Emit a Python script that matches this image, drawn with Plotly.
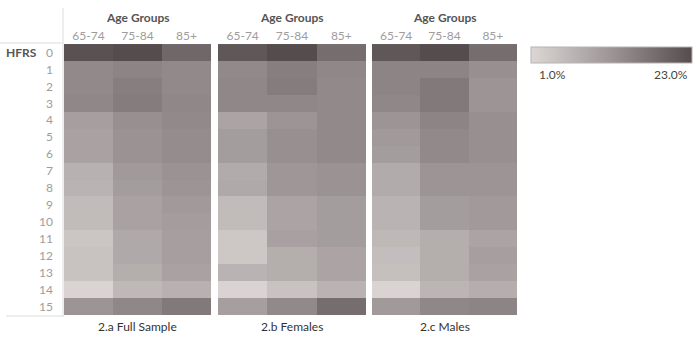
import plotly.graph_objects as go

age_groups = ["65-74", "75-84", "85+"]
hfrs = [str(i) for i in range(16)]
panel_titles = ["2.a Full Sample", "2.b Females", "2.c Males"]
zmin, zmax = 1.0, 23.0

full_sample = [
    [22.2, 23.0, 18.8], [13.7, 14.5, 13.7], [13.7, 15.4, 13.7], [14.0, 15.7, 14.0],
    [10.3, 12.8, 13.7], [9.8, 12.3, 13.2], [9.8, 12.3, 13.2], [7.3, 11.2, 12.3],
    [6.9, 10.6, 12.0], [5.6, 9.8, 11.2], [5.6, 9.8, 10.6], [3.9, 8.6, 10.3],
    [4.4, 8.6, 10.3], [4.4, 7.8, 9.8], [1.5, 6.1, 7.3], [12.0, 14.0, 16.2],
]
females = [
    [21.3, 23.0, 17.9], [13.7, 15.4, 14.0], [14.0, 15.7, 13.7], [14.0, 14.0, 13.7],
    [9.5, 12.0, 13.7], [10.6, 12.8, 13.7], [10.6, 12.8, 13.7], [8.3, 11.7, 12.3],
    [8.6, 11.7, 12.3], [5.6, 9.5, 10.6], [5.6, 9.5, 10.6], [3.5, 10.0, 10.6],
    [3.5, 7.8, 9.5], [6.9, 7.8, 9.5], [1.5, 4.4, 6.9], [10.3, 13.7, 17.9],
]
males = [
    [21.3, 23.0, 17.9], [14.5, 14.5, 12.8], [14.5, 16.2, 12.0], [14.0, 16.2, 12.0],
    [12.0, 14.5, 12.8], [11.2, 13.7, 12.8], [10.6, 13.7, 12.8], [8.3, 12.0, 12.0],
    [8.3, 12.0, 12.0], [6.9, 10.6, 11.2], [6.9, 10.6, 11.2], [6.1, 7.8, 9.5],
    [5.2, 7.8, 10.3], [4.9, 7.8, 9.8], [1.5, 6.6, 7.8], [11.2, 14.0, 14.5],
]
panels = [full_sample, females, males]

W, H = 700, 340
colorscale = [[0.0, "#dcd7d5"], [0.5, "#9c9495"], [1.0, "#554c4d"]]
FONT = "Lato, Open Sans, sans-serif"

x_doms = [(64, 211), (218, 366), (372, 517)]
top_px, bot_px = 43, 315
y_dom = [1 - bot_px / H, 1 - top_px / H]

fig = go.Figure()
for i, (z, title) in enumerate(zip(panels, panel_titles)):
    sfx = "" if i == 0 else str(i + 1)
    fig.add_trace(go.Heatmap(
        z=z, x=age_groups, y=hfrs,
        xaxis="x" + sfx, yaxis="y",
        zmin=zmin, zmax=zmax, colorscale=colorscale,
        showscale=(i == 0),
        colorbar=dict(
            orientation="h", x=531 / W, xanchor="left", y=1 - 47 / H, yanchor="top",
            len=161 / W, lenmode="fraction", thickness=16, thicknessmode="pixels",
            xpad=0, ypad=0, outlinecolor="#b8b3b2", outlinewidth=1,
            showticklabels=False, ticks="",
        ),
        hovertemplate="%{y} / %{x}: %{z:.1f}%<extra></extra>",
    ))
    xa = dict(
        domain=[x_doms[i][0] / W, x_doms[i][1] / W], side="top", anchor="y",
        tickfont=dict(family=FONT, size=12, color="#a09c9c"), showgrid=False,
        zeroline=False, showline=False, ticks="", fixedrange=True,
    )
    fig.update_layout(**{"xaxis" + sfx: xa})
    cx = (x_doms[i][0] + x_doms[i][1]) / 2 / W
    fig.add_annotation(x=cx, y=1 - 17 / H, xref="paper", yref="paper", text="Age Groups",
                       xanchor="center", yanchor="middle", showarrow=False,
                       font=dict(family=FONT, size=12, color="#555", weight="bold"))
    fig.add_annotation(x=cx, y=1 - 326 / H, xref="paper", yref="paper", text=title,
                       xanchor="center", yanchor="middle", showarrow=False,
                       font=dict(family=FONT, size=12, color="#333"))

fig.update_layout(
    yaxis=dict(domain=y_dom, autorange="reversed", type="category",
               tickfont=dict(family=FONT, size=12, color="#a09c9c"), ticklabelstandoff=10,
               showgrid=False, zeroline=False, showline=False, ticks="", fixedrange=True),
)
fig.add_annotation(x=21 / W, y=0, xref="paper", yref="y", text="HFRS", showarrow=False,
                   xanchor="center", yanchor="middle",
                   font=dict(family=FONT, size=12, color="#555", weight="bold"))
fig.add_annotation(x=537 / W, y=1 - 74 / H, xref="paper", yref="paper", text=f"{zmin:.1f}%",
                   xanchor="left", yanchor="middle", showarrow=False,
                   font=dict(family=FONT, size=12, color="#444"))
fig.add_annotation(x=690 / W, y=1 - 74 / H, xref="paper", yref="paper", text=f"{zmax:.1f}%",
                   xanchor="right", yanchor="middle", showarrow=False,
                   font=dict(family=FONT, size=12, color="#444"))

line = dict(color="#dcdcdc", width=1)
fig.add_shape(type="line", xref="paper", yref="paper", x0=63 / W, x1=63 / W,
              y0=1 - 8 / H, y1=1 - 317 / H, line=line)
fig.add_shape(type="line", xref="paper", yref="paper", x0=0, x1=63 / W,
              y0=1 - 43 / H, y1=1 - 43 / H, line=line)
fig.add_shape(type="line", xref="paper", yref="paper", x0=6 / W, x1=63 / W,
              y0=1 - 316 / H, y1=1 - 316 / H, line=line)

fig.update_layout(width=W, height=H, margin=dict(l=0, r=0, t=0, b=0),
                  paper_bgcolor="white", plot_bgcolor="white", showlegend=False)
fig.write_html("out.html")
